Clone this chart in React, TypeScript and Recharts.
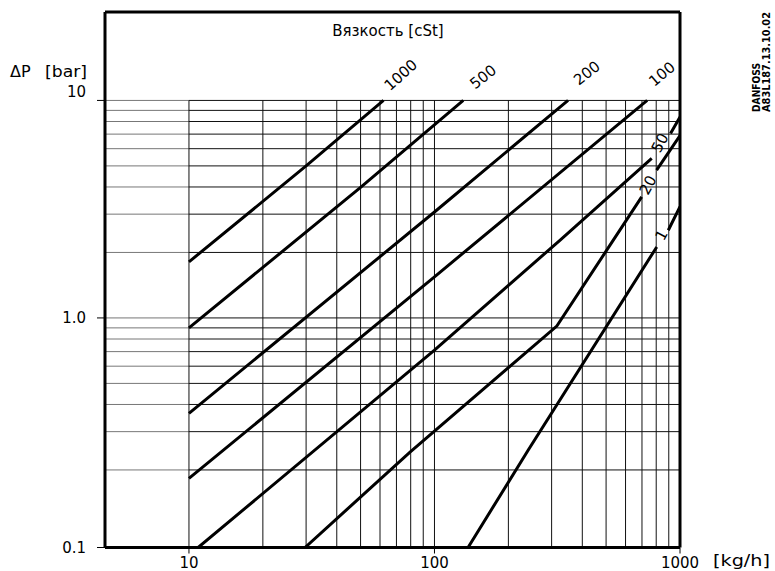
import React from 'react';
import { ComposedChart, Line, Scatter, XAxis, YAxis, ReferenceLine } from 'recharts';

const FONT = "'DejaVu Sans', sans-serif";

// axis range (the drawn "0.1" baseline sits a bit below a true 0.1)
const X_MIN = 4.55;
const X_MAX = 1000;
const Y_BOTTOM = 0.088;
const Y_TOP = 25.5;

const X_TICKS = [10, 100, 1000];
const X_TICK_LABELS = ['10', '100', '1000'];
const Y_TICKS = [Y_BOTTOM, 1, 10];
const Y_TICK_LABELS = ['0.1', '1.0', '10'];

const X_GRID = [10, 20, 30, 40, 50, 60, 70, 80, 90, 100, 200, 300, 400, 500, 600, 700, 800, 900];
const Y_GRID = [0.2, 0.3, 0.4, 0.5, 0.6, 0.7, 0.8, 0.9, 1, 2, 3, 4, 5, 6, 7, 8, 9, 10];

// flow [kg/h] and pressure drop [bar] for each viscosity [cSt]
const Q_1000 = [10, 30, 62];
const DP_1000 = [1.81, 5.0, 10];
const Q_500 = [10, 50, 131];
const DP_500 = [0.9, 3.98, 10];
const Q_200 = [10, 100, 350];
const DP_200 = [0.364, 3.07, 10];
const Q_100 = [10, 100, 735];
const DP_100 = [0.183, 1.545, 10];
const Q_50 = [10.9, 100, 325, 767, 840, 915, 1000];
const DP_50 = [Y_BOTTOM, 0.711, 2.28, 5.41, null, 7.05, 8.4];
const Q_20 = [29.7, 79.5, 315, 503, 698, 750, 803, 1000];
const DP_20 = [Y_BOTTOM, 0.2415, 0.917, 2.05, 3.6, null, 4.78, 6.9];
const Q_1 = [137, 241, 804, 850, 896, 1000];
const DP_1 = [Y_BOTTOM, 0.247, 2.12, null, 2.53, 3.25];

// viscosity labels along the curves
const CURVE_LABELS = ['1000', '500', '200', '100', '50', '20', '1'];
const LABEL_Q = [73, 158, 418, 845, 829, 741, 842];
const LABEL_DP = [13.07, 12.8, 13.35, 13.2, 6.37, 4.08, 2.4];
const LABEL_ANGLE = [-42, -38, -38, -40, -62, -62, -62];

const zip = (q: number[], dp: (number | null)[]) => q.map((v, i) => ({ q: v, dp: dp[i] }));

const SERIES = [
  zip(Q_1000, DP_1000),
  zip(Q_500, DP_500),
  zip(Q_200, DP_200),
  zip(Q_100, DP_100),
  zip(Q_50, DP_50),
  zip(Q_20, DP_20),
  zip(Q_1, DP_1),
];

const labelData = CURVE_LABELS.map((t, i) => ({ q: LABEL_Q[i], dp: LABEL_DP[i], text: t, angle: LABEL_ANGLE[i] }));

const XTick = ({ x, y, payload }: any) => {
  const i = X_TICKS.indexOf(payload.value);
  return (
    <text x={x} y={y + 12} textAnchor="middle" fontFamily={FONT} fontSize={15} fill="#000">
      {X_TICK_LABELS[i]}
    </text>
  );
};

const YTick = ({ x, y, payload }: any) => {
  const i = Y_TICKS.indexOf(payload.value);
  const dy = i === 2 ? -3 : 5;
  return (
    <text x={x} y={y + dy} textAnchor="end" fontFamily={FONT} fontSize={15} fill="#000">
      {Y_TICK_LABELS[i]}
    </text>
  );
};

const CurveLabel = ({ cx, cy, payload }: any) => (
  <text
    x={cx}
    y={cy}
    transform={`rotate(${payload.angle} ${cx} ${cy})`}
    textAnchor="middle"
    dominantBaseline="central"
    fontFamily={FONT}
    fontSize={15}
    fill="#000"
  >
    {payload.text}
  </text>
);

export default function App() {
  return (
    <div style={{ position: 'absolute', left: 0, top: 0, width: 775, height: 571, background: '#fff' }}>
      <ComposedChart
        width={775}
        height={571}
        margin={{ top: 12, right: 95, bottom: 0, left: 0 }}
      >
        <XAxis
          dataKey="q"
          type="number"
          scale="log"
          domain={[X_MIN, X_MAX]}
          allowDataOverflow
          ticks={X_TICKS}
          height={23.5}
          tickSize={6}
          tickMargin={2}
          tick={<XTick />}
          axisLine={{ stroke: '#000', strokeWidth: 3 }}
          tickLine={{ stroke: '#000', strokeWidth: 1 }}
        />
        <YAxis
          dataKey="dp"
          type="number"
          scale="log"
          domain={[Y_BOTTOM, Y_TOP]}
          allowDataOverflow
          ticks={Y_TICKS}
          width={105}
          tickSize={8}
          tickMargin={11}
          tick={<YTick />}
          axisLine={{ stroke: '#000', strokeWidth: 3 }}
          tickLine={{ stroke: '#000', strokeWidth: 1 }}
        />
        {/* horizontal grid: lighter left of 10 kg/h, dark inside the grid block */}
        {Y_GRID.map((v) => (
          <ReferenceLine
            key={`hl${v}`}
            segment={[{ x: X_MIN, y: v }, { x: 10, y: v }]}
            stroke="#777"
            strokeWidth={1}
            ifOverflow="visible"
          />
        ))}
        {Y_GRID.map((v) => (
          <ReferenceLine
            key={`h${v}`}
            segment={[{ x: 10, y: v }, { x: X_MAX, y: v }]}
            stroke="#111"
            strokeWidth={1}
            ifOverflow="visible"
          />
        ))}
        {X_GRID.map((v) => (
          <ReferenceLine
            key={`v${v}`}
            segment={[{ x: v, y: Y_BOTTOM }, { x: v, y: 10 }]}
            stroke="#111"
            strokeWidth={1}
            ifOverflow="visible"
          />
        ))}
        <ReferenceLine y={Y_TOP} stroke="#000" strokeWidth={3} ifOverflow="visible" />
        <ReferenceLine x={X_MAX} stroke="#000" strokeWidth={3} ifOverflow="visible" />
        {SERIES.map((d, i) => (
          <Line
            key={CURVE_LABELS[i]}
            data={d}
            dataKey="dp"
            type="linear"
            stroke="#000"
            strokeWidth={3}
            dot={false}
            activeDot={false}
            isAnimationActive={false}
          />
        ))}
        <Scatter data={labelData} dataKey="dp" shape={<CurveLabel />} isAnimationActive={false} />
      </ComposedChart>
      <svg
        width={775}
        height={571}
        style={{ position: 'absolute', left: 0, top: 0, pointerEvents: 'none' }}
        fontFamily={FONT}
      >
        <text x={388} y={36} textAnchor="middle" fontSize={15}>Вязкость [cSt]</text>
        <text x={10} y={77} fontSize={16}>ΔP</text>
        <text x={45} y={77} fontSize={16} textLength={42} lengthAdjust="spacingAndGlyphs">[bar]</text>
        <text x={713} y={566} fontSize={16} textLength={57} lengthAdjust="spacingAndGlyphs">[kg/h]</text>
        <text
          x={760}
          y={112}
          transform="rotate(-90 760 112)"
          fontSize={10}
          fontWeight="bold"
          textLength={49}
          lengthAdjust="spacingAndGlyphs"
        >
          DANFOSS
        </text>
        <text
          x={770}
          y={112}
          transform="rotate(-90 770 112)"
          fontSize={10}
          fontWeight="bold"
          textLength={100}
          lengthAdjust="spacingAndGlyphs"
        >
          A83L187.13.10.02
        </text>
      </svg>
    </div>
  );
}
